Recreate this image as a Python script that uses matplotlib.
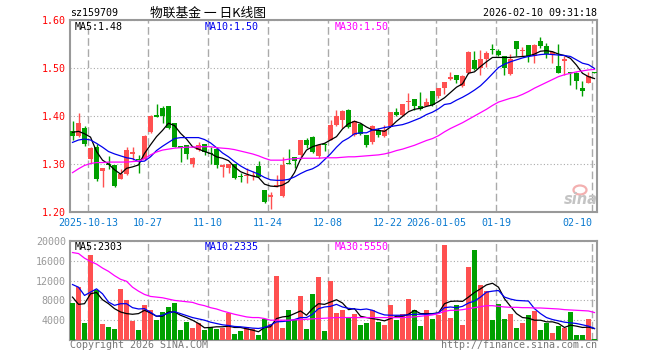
import matplotlib
matplotlib.use('Agg')
import matplotlib.pyplot as plt
from matplotlib.patches import Ellipse
import pandas as pd

# 交易日（去掉国庆和元旦休市）
holidays = ['2025-10-01', '2025-10-02', '2025-10-03', '2025-10-06', '2025-10-07',
            '2025-10-08', '2026-01-01', '2026-01-02']
days = [d.strftime('%Y-%m-%d') for d in pd.bdate_range('2025-09-30', '2026-02-10')]
dates = [d for d in days if d not in holidays]

tick_dates = ['2025-10-13', '2025-10-27', '2025-11-10', '2025-11-24', '2025-12-08',
              '2025-12-22', '2026-01-05', '2026-01-19', '2026-02-10']
tick_labels = ['2025-10-13', '10-27', '11-10', '11-24', '12-08',
               '12-22', '2026-01-05', '01-19', '02-10']

opens = [1.368, 1.358, 1.375, 1.311, 1.336, 1.286, 1.300, 1.298, 1.269, 1.279,
         1.321, 1.311, 1.310, 1.367, 1.402, 1.416, 1.421, 1.385, 1.338, 1.340,
         1.300, 1.329, 1.342, 1.323, 1.331, 1.293, 1.291, 1.300, 1.275, 1.276,
         1.276, 1.295, 1.246, 1.232, 1.254, 1.233, 1.303, 1.314, 1.319, 1.350,
         1.357, 1.317, 1.341, 1.350, 1.382, 1.392, 1.412, 1.361, 1.384, 1.361,
         1.345, 1.371, 1.359, 1.377, 1.409, 1.402, 1.429, 1.436, 1.420, 1.421,
         1.453, 1.441, 1.458, 1.478, 1.485, 1.463, 1.489, 1.517, 1.499, 1.519,
         1.540, 1.536, 1.525, 1.488, 1.557, 1.535, 1.548, 1.525, 1.557, 1.546,
         1.527, 1.504, 1.515, 1.491, 1.490, 1.458, 1.469, 1.491]
highs = [1.390, 1.407, 1.379, 1.335, 1.342, 1.292, 1.317, 1.298, 1.289, 1.335,
         1.335, 1.319, 1.361, 1.402, 1.425, 1.420, 1.421, 1.385, 1.338, 1.340,
         1.314, 1.345, 1.342, 1.336, 1.335, 1.300, 1.300, 1.300, 1.282, 1.291,
         1.286, 1.307, 1.246, 1.242, 1.277, 1.315, 1.331, 1.314, 1.350, 1.354,
         1.359, 1.340, 1.343, 1.392, 1.413, 1.413, 1.414, 1.392, 1.385, 1.361,
         1.382, 1.375, 1.382, 1.409, 1.416, 1.425, 1.448, 1.436, 1.449, 1.437,
         1.453, 1.458, 1.471, 1.492, 1.485, 1.485, 1.536, 1.536, 1.538, 1.536,
         1.550, 1.539, 1.525, 1.529, 1.557, 1.544, 1.548, 1.551, 1.565, 1.553,
         1.536, 1.550, 1.524, 1.492, 1.492, 1.472, 1.492, 1.491]
lows = [1.350, 1.357, 1.338, 1.302, 1.265, 1.253, 1.289, 1.253, 1.268, 1.278,
        1.308, 1.282, 1.308, 1.365, 1.397, 1.386, 1.372, 1.335, 1.305, 1.310,
        1.293, 1.328, 1.319, 1.300, 1.291, 1.272, 1.282, 1.268, 1.263, 1.261,
        1.267, 1.272, 1.219, 1.207, 1.252, 1.232, 1.300, 1.291, 1.310, 1.333,
        1.322, 1.312, 1.328, 1.350, 1.380, 1.375, 1.375, 1.359, 1.361, 1.335,
        1.342, 1.357, 1.357, 1.377, 1.400, 1.400, 1.412, 1.412, 1.412, 1.421,
        1.421, 1.437, 1.446, 1.475, 1.469, 1.461, 1.488, 1.496, 1.485, 1.503,
        1.529, 1.524, 1.485, 1.486, 1.524, 1.525, 1.513, 1.511, 1.541, 1.520,
        1.510, 1.489, 1.485, 1.465, 1.456, 1.442, 1.468, 1.489]
closes = [1.358, 1.385, 1.342, 1.334, 1.268, 1.292, 1.298, 1.254, 1.279, 1.329,
          1.324, 1.309, 1.358, 1.400, 1.398, 1.400, 1.375, 1.336, 1.333, 1.321,
          1.312, 1.340, 1.324, 1.321, 1.297, 1.297, 1.300, 1.270, 1.273, 1.278,
          1.278, 1.272, 1.221, 1.235, 1.255, 1.298, 1.300, 1.307, 1.350, 1.340,
          1.324, 1.340, 1.339, 1.382, 1.399, 1.411, 1.377, 1.389, 1.363, 1.340,
          1.380, 1.361, 1.370, 1.409, 1.402, 1.425, 1.432, 1.420, 1.414, 1.430,
          1.423, 1.458, 1.470, 1.481, 1.476, 1.483, 1.534, 1.497, 1.518, 1.532,
          1.538, 1.527, 1.501, 1.518, 1.539, 1.538, 1.524, 1.548, 1.546, 1.529,
          1.534, 1.490, 1.518, 1.489, 1.472, 1.453, 1.483, 1.490]

ma5 = [1.366, 1.368, 1.363, 1.356, 1.326, 1.308, 1.300, 1.288, 1.279, 1.291,
       1.294, 1.298, 1.322, 1.340, 1.357, 1.370, 1.385, 1.380, 1.364, 1.352,
       1.336, 1.331, 1.326, 1.322, 1.315, 1.312, 1.307, 1.294, 1.284, 1.279,
       1.275, 1.272, 1.258, 1.254, 1.253, 1.256, 1.263, 1.282, 1.310, 1.329,
       1.336, 1.340, 1.343, 1.350, 1.357, 1.373, 1.384, 1.389, 1.385, 1.377,
       1.371, 1.370, 1.368, 1.377, 1.389, 1.399, 1.409, 1.414, 1.416, 1.420,
       1.423, 1.430, 1.438, 1.449, 1.460, 1.467, 1.489, 1.492, 1.503, 1.513,
       1.522, 1.522, 1.522, 1.522, 1.523, 1.524, 1.525, 1.529, 1.535, 1.536,
       1.534, 1.529, 1.526, 1.520, 1.506, 1.489, 1.482, 1.478]
ma10 = [1.345, 1.350, 1.352, 1.350, 1.343, 1.335, 1.326, 1.321, 1.317, 1.313,
        1.311, 1.305, 1.306, 1.315, 1.328, 1.337, 1.345, 1.353, 1.355, 1.355,
        1.355, 1.355, 1.351, 1.344, 1.334, 1.323, 1.315, 1.305, 1.296, 1.289,
        1.284, 1.279, 1.272, 1.267, 1.266, 1.266, 1.268, 1.273, 1.280, 1.286,
        1.290, 1.297, 1.309, 1.321, 1.335, 1.347, 1.354, 1.363, 1.365, 1.365,
        1.371, 1.373, 1.376, 1.378, 1.380, 1.382, 1.386, 1.391, 1.396, 1.403,
        1.408, 1.415, 1.424, 1.426, 1.433, 1.439, 1.446, 1.454, 1.463, 1.475,
        1.488, 1.501, 1.508, 1.513, 1.517, 1.521, 1.524, 1.526, 1.528, 1.529,
        1.528, 1.527, 1.526, 1.524, 1.517, 1.510, 1.507, 1.499]
ma30 = [1.282, 1.290, 1.297, 1.301, 1.303, 1.303, 1.304, 1.304, 1.304, 1.304,
        1.305, 1.306, 1.311, 1.319, 1.325, 1.329, 1.331, 1.333, 1.334, 1.335,
        1.335, 1.336, 1.336, 1.336, 1.334, 1.333, 1.332, 1.330, 1.327, 1.324,
        1.321, 1.317, 1.312, 1.308, 1.308, 1.308, 1.310, 1.311, 1.312, 1.312,
        1.312, 1.312, 1.313, 1.313, 1.313, 1.314, 1.315, 1.315, 1.316, 1.317,
        1.318, 1.319, 1.321, 1.324, 1.328, 1.331, 1.335, 1.339, 1.344, 1.349,
        1.353, 1.359, 1.367, 1.374, 1.380, 1.386, 1.393, 1.400, 1.407, 1.414,
        1.422, 1.429, 1.433, 1.437, 1.440, 1.445, 1.451, 1.458, 1.464, 1.470,
        1.476, 1.482, 1.486, 1.489, 1.492, 1.494, 1.496, 1.497]

volume = [7467, 10800, 3467, 17200, 10200, 3200, 2667, 2267, 10400, 8000,
          3867, 2000, 7000, 6000, 4000, 5667, 6600, 7400, 2000, 3600,
          2400, 3467, 2000, 2667, 2267, 2467, 5400, 1200, 1867, 2667,
          2133, 1000, 4200, 3200, 13000, 2400, 6000, 4133, 8800, 2200,
          9267, 12800, 1800, 12000, 5400, 6000, 4533, 5200, 3000, 3400,
          6000, 3600, 3000, 7000, 4000, 5200, 8200, 6000, 2800, 6000,
          4200, 5000, 19200, 4533, 7000, 3000, 14667, 18200, 11200, 10000,
          4000, 7200, 4200, 5200, 2400, 3400, 5000, 5800, 2000, 3400,
          1400, 2800, 2400, 5600, 1000, 1000, 4200, 200]
vma5 = [8667, 7200, 7333, 9333, 9600, 8133, 7333, 6333, 5667, 5333,
        5200, 5333, 6000, 5467, 4800, 4800, 5667, 5667, 5000, 4533,
        4000, 3333, 2467, 2533, 2667, 2667, 2800, 2533, 2533, 2267,
        2000, 1667, 2533, 2667, 4333, 4667, 4800, 5333, 5867, 5000,
        6333, 7333, 7200, 7667, 8133, 7467, 6133, 6333, 4800, 4533,
        4333, 4133, 3867, 4333, 4800, 4800, 5200, 6000, 5333, 5333,
        5333, 5467, 7333, 7800, 7867, 7800, 8667, 9600, 10333, 11133,
        11467, 10667, 8333, 6800, 5333, 4533, 4400, 4000, 4000, 3667,
        3667, 3333, 2533, 3000, 2800, 2533, 2600, 2303]
vma10 = [11200, 10667, 9000, 9667, 10333, 9333, 7667, 7000, 7333, 7333,
         6533, 6267, 6333, 5600, 4800, 5000, 5467, 5733, 5333, 4933,
         4533, 4267, 4000, 3600, 3333, 3067, 2933, 2733, 2667, 2533,
         2400, 2333, 2533, 3000, 3667, 3733, 3867, 4133, 4533, 4533,
         5200, 6333, 6667, 6800, 7200, 6667, 6400, 6267, 6133, 6267,
         6000, 5467, 5067, 5000, 5000, 5000, 5067, 5200, 5200, 5200,
         5267, 5467, 6533, 6667, 6533, 6800, 7467, 7867, 8667, 9667,
         9867, 10000, 8667, 8267, 8000, 7933, 7867, 6333, 5333, 4533,
         4133, 3867, 3600, 3467, 3333, 3067, 2800, 2335]
vma30 = [17667, 17467, 16533, 15867, 15333, 14533, 13867, 13000, 12267, 11867,
         10667, 9867, 9200, 8800, 8667, 8533, 8267, 8000, 7867, 7733,
         7600, 7200, 6933, 6533, 6267, 5867, 5533, 5200, 4933, 4667,
         4533, 4533, 4333, 4000, 4000, 4000, 4000, 4067, 4133, 4200,
         4267, 4333, 4400, 4467, 4533, 4533, 4533, 4533, 4533, 4533,
         4533, 4533, 4533, 4533, 4533, 4533, 4600, 4667, 4800, 4933,
         5067, 5333, 5800, 6000, 6000, 6133, 6333, 6533, 6733, 6933,
         6933, 6800, 6667, 6600, 6600, 6533, 6533, 6467, 6467, 6400,
         6333, 6267, 6133, 6067, 6000, 5933, 5867, 5550]

RED = '#ff5050'
GREEN = '#00a000'
GRID = '#aaaaaa'
MONO = 'DejaVu Sans Mono'
FS = 7.2

W, H = 660, 360
fig = plt.figure(figsize=(W / 100, H / 100), dpi=100)
fig.patch.set_facecolor('white')


def box(l, t, r, b):
    return [l / W, 1 - b / H, (r - l) / W, (b - t) / H]


def ftext(x, y, s, **kw):
    fig.text(x / W, 1 - y / H, s, va='center', **kw)


ax = fig.add_axes(box(70, 20, 597, 212))
axv = fig.add_axes(box(70, 241, 597, 340))

n = len(dates)
xs = list(range(n))
colors = [RED if c >= o else GREEN for o, c in zip(opens, closes)]
tick_pos = [dates.index(d) - 0.4 for d in tick_dates]

# K线
ax.vlines(xs, lows, highs, colors=colors, linewidth=1, zorder=3)
bottoms = [min(o, c) for o, c in zip(opens, closes)]
heights = [max(abs(c - o), 0.0018) for o, c in zip(opens, closes)]
ax.bar(xs, heights, bottom=bottoms, width=0.82, color=colors, linewidth=0, zorder=4)
ax.plot(xs, ma5, color='black', lw=0.9, zorder=5)
ax.plot(xs, ma10, color='#0000ee', lw=0.9, zorder=5)
ax.plot(xs, ma30, color='#ff00ff', lw=0.9, zorder=5)

# 成交量
axv.bar(xs, volume, width=0.82, color=colors, linewidth=0, zorder=3)
axv.plot(xs, vma5, color='black', lw=0.9, zorder=5)
axv.plot(xs, vma10, color='#0000ee', lw=0.9, zorder=5)
axv.plot(xs, vma30, color='#ff00ff', lw=0.9, zorder=5)

for a in (ax, axv):
    a.set_xlim(-0.42, n - 1 + 0.42)
    for s in a.spines.values():
        s.set_color('#999999')
        s.set_linewidth(1.5)
    a.set_xticks(tick_pos)
    a.tick_params(length=0)
    a.xaxis.grid(True, linestyle=(0, (5.5, 2.5)), color=GRID, lw=1)
    a.yaxis.grid(True, linestyle=(0, (1, 2)), color=GRID, lw=0.8)
    a.set_axisbelow(True)

ax.set_ylim(1.20, 1.60)
ax.set_yticks([1.20, 1.30, 1.40, 1.50, 1.60])
ax.set_yticklabels(['%.2f' % v for v in ax.get_yticks()], color='red',
                   fontfamily=MONO, fontsize=FS)
ax.set_xticklabels(tick_labels, color='#0a7ad0', fontfamily=MONO, fontsize=FS)
ax.get_xticklabels()[-1].set_ha('right')
ax.tick_params(axis='y', pad=3)
ax.tick_params(axis='x', pad=4)

axv.set_ylim(0, 20000)
axv.set_yticks([4000, 8000, 12000, 16000, 20000])
axv.set_yticklabels([str(v) for v in axv.get_yticks()], color='#999999',
                    fontfamily=MONO, fontsize=FS)
axv.set_xticklabels([])
axv.tick_params(axis='y', pad=3)

# 文字
ftext(70, 13, 'sz159709', fontfamily=MONO, fontsize=FS)
ftext(150, 13, '物联基金 一 日K线图', family=['Noto Sans CJK SC', 'DejaVu Sans'], fontsize=9.2)
ftext(597, 13, '2026-02-10 09:31:18', fontfamily=MONO, fontsize=FS, ha='right')
ftext(75, 26.5, 'MA5:%.2f' % ma5[-1], fontfamily=MONO, fontsize=FS, color='black')
ftext(205, 26.5, 'MA10:%.2f' % ma10[-1], fontfamily=MONO, fontsize=FS, color='#0000ee')
ftext(335, 26.5, 'MA30:%.2f' % ma30[-1], fontfamily=MONO, fontsize=FS, color='#ff00ff')
ftext(75, 246.5, 'MA5:%d' % vma5[-1], fontfamily=MONO, fontsize=FS, color='black')
ftext(205, 246.5, 'MA10:%d' % vma10[-1], fontfamily=MONO, fontsize=FS, color='#0000ee')
ftext(335, 246.5, 'MA30:%d' % vma30[-1], fontfamily=MONO, fontsize=FS, color='#ff00ff')
ftext(70, 345.5, 'Copyright 2026 SINA.COM', fontfamily=MONO, fontsize=FS, color='#777777')
ftext(597, 345.5, 'http://finance.sina.com.cn', fontfamily=MONO, fontsize=FS,
      color='#777777', ha='right')

# sina 水印
fig.patches.append(Ellipse((580 / W, 1 - 190 / H), 13 / W, 9 / H, transform=fig.transFigure,
                           facecolor='none', edgecolor='#f3b0b0', lw=1.6))
ftext(581, 199, 'sina', fontsize=10.5, style='italic', weight='bold', color='#c4c4c4', ha='center')

fig.savefig('out.png', dpi=100)
